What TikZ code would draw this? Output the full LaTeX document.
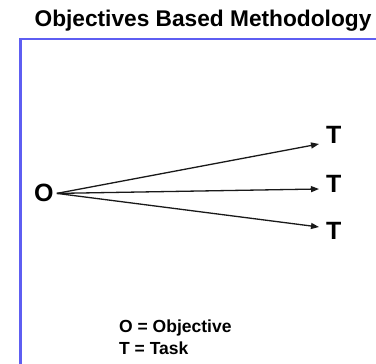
\documentclass[tikz,border=0pt]{standalone}
\usepackage{fontspec}
\setmainfont{Liberation Sans}
\usetikzlibrary{arrows.meta}
\definecolor{frameblue}{HTML}{5E5EF2}
\tikzset{
  lbl/.style={font=\bfseries, inner sep=0pt, text=black},
  big/.style={lbl, font=\fontsize{25}{28}\selectfont\bfseries, anchor=base west},
  leg/.style={lbl, font=\fontsize{17.5}{20}\selectfont\bfseries, anchor=base west},
  conn/.style={line width=1.3pt, draw=black!90, -{Triangle[length=8pt,width=6pt]}},
}
\begin{document}
\begin{tikzpicture}[x=1pt,y=-1pt]
\useasboundingbox[fill=white] (0,0) rectangle (376,364);
\node[lbl, font=\fontsize{22.7}{26}\selectfont\bfseries, anchor=base] (title) at (203,27) {Objectives Based Methodology};
\draw[frameblue, line width=2.5pt] (378,39) -- (20.5,39) -- (20.5,366);
\node[big] (o) at (34,201) {O};
\node[big] (t1) at (326,143) {T};
\node[big] (t2) at (326,193) {T};
\node[big] (t3) at (326,240) {T};
\coordinate (start) at ([shift={(3pt,-1pt)}]o.east);
\draw[conn] (start) -- ([xshift=-7pt,yshift=-1pt]t1.base west);
\draw[conn] (start) -- ([xshift=-7pt,yshift=4pt]t2.base west);
\draw[conn] (start) -- ([xshift=-7pt,yshift=13pt]t3.base west);
\node[leg] (leg1) at (119,333) {O = Objective};
\node[leg] (leg2) at (119,354) {T = Task};
\end{tikzpicture}
\end{document}
